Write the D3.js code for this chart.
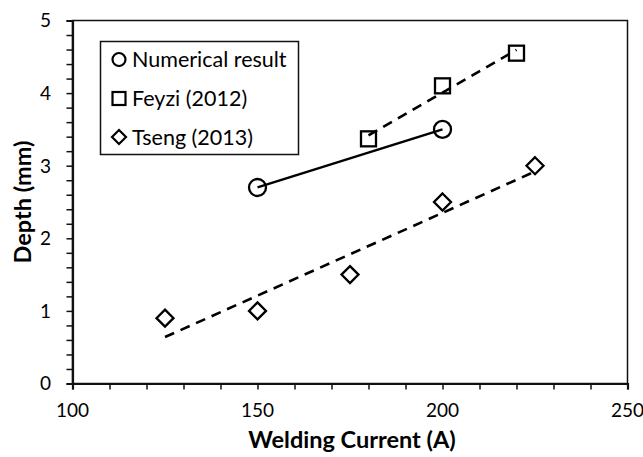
<!DOCTYPE html>
<html>
<head>
<meta charset="utf-8">
<script src="https://cdn.jsdelivr.net/npm/d3@7"></script>
<style>
  html, body { margin: 0; padding: 0; background: #fff; }
  svg { display: block; }
  text { font-family: Lato, "Open Sans", sans-serif; fill: #000; }
</style>
</head>
<body>
<svg id="chart" width="643" height="457"></svg>
<script>
// Penetration depth versus welding current
const numericalCurrent = [150, 200];
const numericalDepth = [2.7, 3.5];

const feyziCurrent = [180, 200, 220];
const feyziDepth = [3.37, 4.1, 4.55];

const tsengCurrent = [125, 150, 175, 200, 225];
const tsengDepth = [0.9, 1.0, 1.5, 2.5, 3.0];

const xTickValues = [100, 150, 200, 250];
const yTickValues = [0, 1, 2, 3, 4, 5];

const legendLabels = ["Numerical result", "Feyzi (2012)", "Tseng (2013)"];
const xTitle = "Welding Current (A)";
const yTitle = "Depth (mm)";

const svg = d3.select("#chart");
const plot = { left: 72.5, right: 627.5, top: 20.5, bottom: 383.5 };

const x = d3.scaleLinear().domain([100, 250]).range([plot.left, plot.right]);
const y = d3.scaleLinear().domain([0, 5]).range([plot.bottom, plot.top]);

// frame (top and right edges)
svg.append("rect")
  .attr("x", plot.left).attr("y", plot.top)
  .attr("width", plot.right - plot.left).attr("height", plot.bottom - plot.top)
  .attr("fill", "none").attr("stroke", "#111").attr("stroke-width", 1.5);

// minor ticks
const xMinor = d3.range(100, 251, 10);
const yMinor = d3.range(0, 5.001, 0.2);

const xAxis = d3.axisBottom(x).tickValues(xMinor).tickSize(6).tickFormat("");
const yAxis = d3.axisLeft(y).tickValues(yMinor).tickSize(6).tickFormat("");

const gx = svg.append("g").attr("transform", `translate(0,${plot.bottom})`).call(xAxis);
const gy = svg.append("g").attr("transform", `translate(${plot.left},0)`).call(yAxis);
[gx, gy].forEach(g => {
  g.select(".domain").attr("stroke", "#111").attr("stroke-width", 2.2);
  g.selectAll(".tick line").attr("stroke", "#111").attr("stroke-width", 1.5);
});

// tick labels
svg.append("g").selectAll("text").data(xTickValues).join("text")
  .attr("x", d => x(d)).attr("y", 417)
  .attr("text-anchor", "middle")
  .attr("font-size", 19)
  .text(d => d);

svg.append("g").selectAll("text").data(yTickValues).join("text")
  .attr("x", 51).attr("y", d => y(d))
  .attr("dy", "0.36em")
  .attr("text-anchor", "end")
  .attr("font-size", 19)
  .text(d => d);

// axis titles
svg.append("text")
  .attr("x", 352).attr("y", 448)
  .attr("text-anchor", "middle")
  .attr("font-size", 23.5).attr("font-weight", "bold")
  .text(xTitle);

svg.append("text")
  .attr("transform", "translate(31,202) rotate(-90)")
  .attr("text-anchor", "middle")
  .attr("font-size", 23.5).attr("font-weight", "bold")
  .text(yTitle);

// least-squares trend line over the data's current range
function trend(xs, ys) {
  const mx = d3.mean(xs), my = d3.mean(ys);
  const slope = d3.sum(xs, (v, i) => (v - mx) * (ys[i] - my)) / d3.sum(xs, v => (v - mx) ** 2);
  const x0 = d3.min(xs), x1 = d3.max(xs);
  return [[x0, my + slope * (x0 - mx)], [x1, my + slope * (x1 - mx)]];
}

const line = d3.line().x(d => x(d[0])).y(d => y(d[1]));

svg.append("path")
  .datum(numericalCurrent.map((c, i) => [c, numericalDepth[i]]))
  .attr("d", line)
  .attr("fill", "none").attr("stroke", "#000").attr("stroke-width", 2.4);

svg.append("path")
  .datum(trend(feyziCurrent, feyziDepth))
  .attr("d", line)
  .attr("fill", "none").attr("stroke", "#000").attr("stroke-width", 2.6)
  .attr("stroke-dasharray", "10,7");

svg.append("path")
  .datum(trend(tsengCurrent, tsengDepth))
  .attr("d", line)
  .attr("fill", "none").attr("stroke", "#000").attr("stroke-width", 2.6)
  .attr("stroke-dasharray", "10,7");

// marker shapes
function drawMarker(g, shape, cx, cy, s) {
  if (shape === "circle") {
    g.append("circle").attr("cx", cx).attr("cy", cy).attr("r", s / 2);
  } else if (shape === "square") {
    g.append("rect").attr("x", cx - s / 2).attr("y", cy - s / 2).attr("width", s).attr("height", s);
  } else {
    const h = s / 2;
    g.append("path").attr("d", `M${cx},${cy - h}L${cx + h},${cy}L${cx},${cy + h}L${cx - h},${cy}Z`);
  }
}

const markers = svg.append("g").attr("fill", "none").attr("stroke", "#000").attr("stroke-width", 2.3);
numericalCurrent.forEach((c, i) => drawMarker(markers, "circle", x(c), y(numericalDepth[i]), 17));
feyziCurrent.forEach((c, i) => drawMarker(markers, "square", x(c), y(feyziDepth[i]), 15));
tsengCurrent.forEach((c, i) => drawMarker(markers, "diamond", x(c), y(tsengDepth[i]), 17));

// legend
const legend = svg.append("g");
legend.append("rect")
  .attr("x", 100.5).attr("y", 41.5).attr("width", 198).attr("height", 113)
  .attr("fill", "#fff").attr("stroke", "#111").attr("stroke-width", 1.5);

const legendShapes = ["circle", "square", "diamond"];
const legendSizes = [13, 13, 14];
const legendRowY = [59.5, 98.5, 137];
const lm = legend.append("g").attr("fill", "none").attr("stroke", "#000").attr("stroke-width", 2.2);
legendLabels.forEach((label, i) => {
  drawMarker(lm, legendShapes[i], 119, legendRowY[i], legendSizes[i]);
  legend.append("text")
    .attr("x", 132).attr("y", legendRowY[i])
    .attr("dy", "0.36em")
    .attr("font-size", 21.5)
    .text(label);
});
</script>
</body>
</html>
